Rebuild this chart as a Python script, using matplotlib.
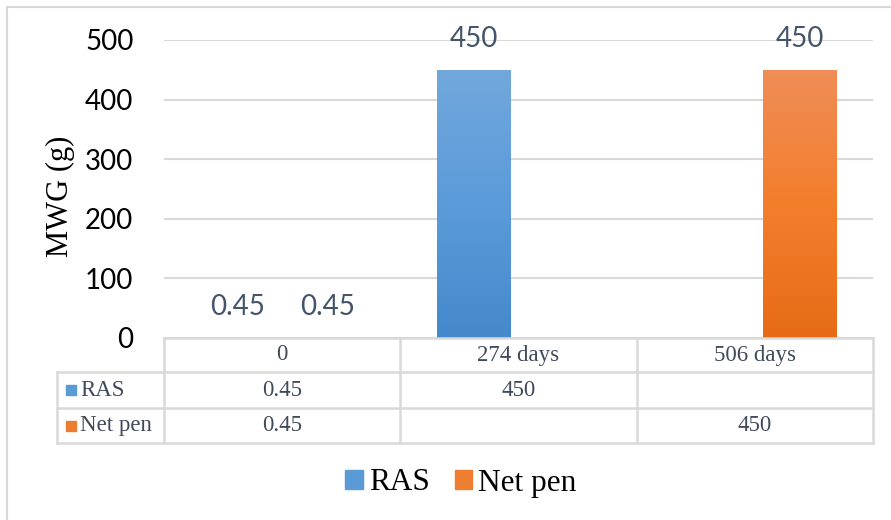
import numpy as np
import matplotlib
matplotlib.use("Agg")
import matplotlib.pyplot as plt
from matplotlib.colors import LinearSegmentedColormap
from matplotlib.patches import Rectangle, Patch
from matplotlib.lines import Line2D
from matplotlib import transforms

categories = ["0", "274 days", "506 days"]
series_names = ["RAS", "Net pen"]
ras = [0.45, 450, np.nan]
net_pen = [0.45, np.nan, 450]
yticks = [0, 100, 200, 300, 400, 500]

W, H = 891, 520
fig = plt.figure(figsize=(W / 100, H / 100), dpi=100)


def fx(px):
    return px / W


def fy(py):
    return 1 - py / H


# chart frame
fig.patches.append(Rectangle((fx(7), fy(530)), fx(900), fy(7) - fy(530),
                             transform=fig.transFigure, fill=False,
                             edgecolor="#D9D9D9", lw=1.5))

ax = fig.add_axes([fx(164), fy(338), fx(873) - fx(164), fy(40) - fy(338)])

sans = "Lato"
serif = "Liberation Serif"
label_color = "#44546A"
table_color = "#404A5A"
grid_color = "#D9D9D9"

blue_grad = LinearSegmentedColormap.from_list("b", ["#4589CB", "#5B9BD9", "#72A8DC"])
orange_grad = LinearSegmentedColormap.from_list("o", ["#E76B17", "#F37E2C", "#F08D58"])

x = np.arange(len(categories))
width = 0.31
offset = 0.19
gradient = np.linspace(0, 1, 256).reshape(-1, 1)

for vals, off, cmap, name in [(ras, -offset, blue_grad, "RAS"),
                              (net_pen, offset, orange_grad, "Net pen")]:
    bars = ax.bar(x + off, vals, width, color="none", edgecolor="none", zorder=3)
    for bar, v in zip(bars, vals):
        if np.isnan(v):
            continue
        x0 = bar.get_x()
        img = ax.imshow(gradient, extent=[x0, x0 + width, 0, v], origin="lower",
                        cmap=cmap, aspect="auto", zorder=3)
        img.set_clip_path(bar)
        ax.annotate(f"{v:g}", (x0 + width / 2, v), xytext=(0, 22),
                    textcoords="offset points", ha="center", va="center",
                    fontsize=20, family=sans, color=label_color)

ax.set_xlim(-0.5, len(categories) - 0.5)
ax.set_ylim(0, 500)
ax.set_yticks(yticks)
ax.set_yticklabels([str(t) for t in yticks], family=sans, fontsize=20)
ax.set_xticks([])
ax.tick_params(axis="y", length=0, pad=22)
ax.grid(axis="y", color=grid_color, lw=1.5, zorder=0)
ax.set_axisbelow(True)
for s in ax.spines.values():
    s.set_visible(False)

fig.text(fx(60), fy(196), "MWG (g)", rotation=90, ha="center", va="center",
         family=serif, fontsize=22)

# data table under the axis
tr = transforms.blended_transform_factory(ax.transData, fig.transFigure)
row_tops = [338, 372, 408, 443]
col_edges = np.arange(len(categories) + 1) - 0.5
line_kw = dict(color=grid_color, lw=1.8)

for py in row_tops:
    fig.add_artist(Line2D([fx(57) if py > 338 else fx(164), fx(873)], [fy(py), fy(py)],
                          transform=fig.transFigure, **line_kw))
for ce in col_edges:
    fig.add_artist(Line2D([ce, ce], [fy(338), fy(443)], transform=tr, **line_kw))
fig.add_artist(Line2D([fx(57), fx(57)], [fy(372), fy(443)],
                      transform=fig.transFigure, **line_kw))

for i, c in enumerate(categories):
    fig.text(x[i], fy(355), c, transform=tr, ha="center", va="center",
             family=serif, fontsize=16.5, color=table_color)

for r, (name, vals, col) in enumerate([("RAS", ras, "#5B9BD5"),
                                       ("Net pen", net_pen, "#ED7D31")]):
    yc = (row_tops[r + 1] + row_tops[r + 2]) / 2
    fig.patches.append(Rectangle((fx(66), fy(yc + 5)), fx(10), fy(yc - 5) - fy(yc + 5),
                                 transform=fig.transFigure, color=col))
    fig.text(fx(80), fy(yc), name, ha="left", va="center",
             family=serif, fontsize=16.5, color=table_color)
    for i, v in enumerate(vals):
        if not np.isnan(v):
            fig.text(x[i], fy(yc), f"{v:g}", transform=tr, ha="center", va="center",
                     family=serif, fontsize=16.5, color=table_color)

handles = [Patch(color="#5B9BD5", label="RAS"), Patch(color="#ED7D31", label="Net pen")]
fig.legend(handles=handles, loc="center", bbox_to_anchor=(fx(461), fy(483)), ncol=2,
           frameon=False, prop={"family": serif, "size": 22.5},
           handlelength=0.55, handleheight=0.55, handletextpad=0.2,
           columnspacing=0.8)

fig.savefig("out.png", dpi=100)
